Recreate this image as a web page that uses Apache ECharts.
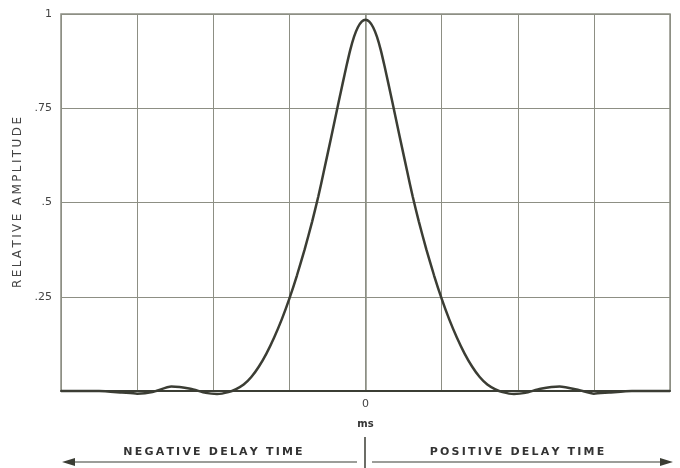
<!DOCTYPE html>
<html><head><meta charset="utf-8">
<script src="https://cdn.jsdelivr.net/npm/echarts@6/dist/echarts.min.js"></script>
<style>html,body{margin:0;padding:0;background:#fff}#c{width:680px;height:468px}</style>
</head><body><div id="c"></div>
<script>
// delay time (ms) and relative amplitude
const delayTimes = [-4.0,-3.5,-3.2,-3.0,-2.8,-2.55,-2.3,-2.1,-1.95,-1.8,-1.7,-1.6,-1.5,-1.4,-1.3,-1.2,-1.1,-1.0,-0.9,-0.8,-0.7,-0.62,-0.55,-0.45,-0.35,-0.3,-0.25,-0.2,-0.15,-0.1,-0.05,0,0.05,0.1,0.15,0.2,0.25,0.3,0.35,0.45,0.55,0.62,0.7,0.8,0.9,1.0,1.1,1.2,1.3,1.4,1.5,1.6,1.7,1.8,1.95,2.1,2.3,2.55,2.8,3.0,3.2,3.5,4.0];
const amplitudes = [0.0,0.0,-0.004,-0.007,-0.003,0.012,0.006,-0.005,-0.008,-0.003,0.005,0.017,0.037,0.065,0.10,0.142,0.19,0.245,0.307,0.375,0.45,0.516,0.58,0.674,0.769,0.816,0.862,0.905,0.94,0.965,0.98,0.985,0.98,0.965,0.94,0.905,0.862,0.816,0.769,0.674,0.58,0.516,0.45,0.375,0.307,0.245,0.19,0.142,0.10,0.065,0.037,0.017,0.005,-0.003,-0.008,-0.005,0.006,0.012,0.003,-0.007,-0.004,0.0,0.0];
const yTickLabels = {"0":"", "0.25":".25", "0.5":".5", "0.75":".75", "1":"1"};
const xTickLabels = {"0":"0"};
const xUnit = "ms";
const yTitle = "RELATIVE AMPLITUDE";
const negLabel = "NEGATIVE DELAY TIME";
const posLabel = "POSITIVE DELAY TIME";

const spaced = s => s.split('').join('\u2009');
const ink = '#3b3d34';
const gridCol = '#8d8f84';

const chart = echarts.init(document.getElementById('c'));
chart.setOption({
  backgroundColor: '#ffffff',
  animation: false,
  grid: {left: 61, right: 10, top: 14, bottom: 77},
  xAxis: {
    type: 'value', min: -4, max: 4, interval: 1,
    axisLine: {show: true, onZero: false, lineStyle: {color: ink, width: 2}},
    axisTick: {show: false},
    splitLine: {show: true, lineStyle: {color: gridCol, width: 1}},
    axisLabel: {formatter: v => xTickLabels[String(v)] || '', color: '#444', fontSize: 11, margin: 8, fontFamily: 'DejaVu Sans'},
    name: xUnit, nameLocation: 'middle', nameGap: 28,
    nameTextStyle: {color: '#333', fontSize: 10, fontWeight: 'bold', fontFamily: 'DejaVu Sans'}
  },
  yAxis: {
    type: 'value', min: 0, max: 1, interval: 0.25,
    axisLine: {show: true, lineStyle: {color: gridCol, width: 1.5}},
    axisTick: {show: false},
    splitLine: {show: true, lineStyle: {color: gridCol, width: 1}},
    axisLabel: {formatter: v => yTickLabels[String(v)] ?? '', color: '#444', fontSize: 11, margin: 9, fontFamily: 'DejaVu Sans'},
    name: spaced(yTitle), nameLocation: 'middle', nameGap: 33, nameRotate: 90,
    nameTextStyle: {color: '#444', fontSize: 12, fontFamily: 'DejaVu Sans'}
  },
  series: [{
    type: 'line', smooth: 0.2, showSymbol: false, clip: false,
    data: delayTimes.map((x, i) => [x, amplitudes[i]]),
    lineStyle: {color: ink, width: 2.5}
  }],
  graphic: [
    {type: 'rect', shape: {x: 61, y: 14, width: 609, height: 377}, style: {fill: 'none', stroke: gridCol, lineWidth: 1.5}, silent: true},
    {type: 'line', shape: {x1: 365, y1: 437, x2: 365, y2: 468}, style: {stroke: ink, lineWidth: 1.5}},
    {type: 'line', shape: {x1: 72, y1: 462, x2: 357, y2: 462}, style: {stroke: ink, lineWidth: 1.2}},
    {type: 'polygon', shape: {points: [[62, 462], [75, 458], [75, 466]]}, style: {fill: ink}},
    {type: 'line', shape: {x1: 372, y1: 462, x2: 662, y2: 462}, style: {stroke: ink, lineWidth: 1.2}},
    {type: 'polygon', shape: {points: [[673, 462], [660, 458], [660, 466]]}, style: {fill: ink}},
    {type: 'text', style: {text: spaced(negLabel), x: 213, y: 452, align: 'center', verticalAlign: 'middle', fill: '#333', font: 'bold 11px "DejaVu Sans"'}},
    {type: 'text', style: {text: spaced(posLabel), x: 517, y: 452, align: 'center', verticalAlign: 'middle', fill: '#333', font: 'bold 11px "DejaVu Sans"'}}
  ]
});
</script></body></html>
